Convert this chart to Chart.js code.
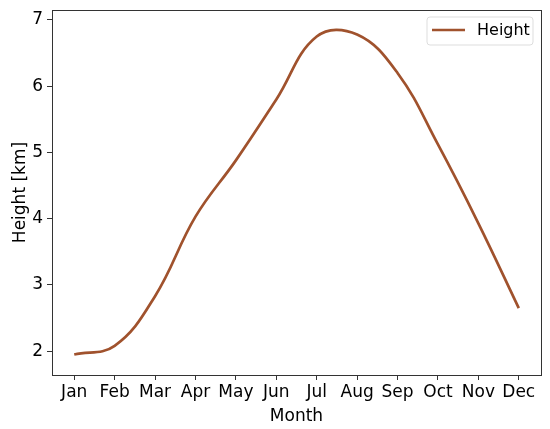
<!DOCTYPE html>
<html>
<head>
<meta charset="utf-8">
<script src="https://cdn.jsdelivr.net/npm/chart.js@4/dist/chart.umd.min.js"></script>
<style>
  html, body { margin: 0; padding: 0; background: #fff; }
  #wrap { width: 550px; height: 429px; }
</style>
</head>
<body>
<div id="wrap"><canvas id="heightChart"></canvas></div>
<script>
// valeurs
const months = ['Jan', 'Feb', 'Mar', 'Apr', 'May', 'Jun', 'Jul', 'Aug', 'Sep', 'Oct', 'Nov', 'Dec'];
const heights = [1.95, 2.08, 2.83, 4.03, 4.88, 5.80, 6.75, 6.78, 6.20, 5.12, 3.93, 2.65];
const yTicks = [2, 3, 4, 5, 6, 7];

const lineColor = '#a0522d';
const font = { family: 'DejaVu Sans', size: 17 };

// cadre autour de la zone du graphique + légende dans le coin
const framePlugin = {
    id: 'frame',
    afterDraw(chart) {
        const { ctx, chartArea: a } = chart;
        ctx.save();
        ctx.strokeStyle = '#333';
        ctx.lineWidth = 1;
        ctx.strokeRect(a.left + 0.5, a.top + 0.5, a.right - a.left, a.bottom - a.top);

        // légende
        const bx = a.right - 114, by = a.top + 7, bw = 106, bh = 28;
        ctx.fillStyle = 'rgba(255,255,255,0.8)';
        ctx.strokeStyle = '#ddd';
        ctx.beginPath();
        ctx.roundRect(bx, by, bw, bh, 3);
        ctx.fill();
        ctx.stroke();
        ctx.strokeStyle = lineColor;
        ctx.lineWidth = 2.5;
        ctx.beginPath();
        ctx.moveTo(bx + 5, by + 13);
        ctx.lineTo(bx + 38, by + 13);
        ctx.stroke();
        ctx.fillStyle = '#000';
        ctx.font = '16px "DejaVu Sans"';
        ctx.textBaseline = 'middle';
        ctx.fillText(chart.data.datasets[0].label, bx + 50, by + 14);
        ctx.restore();
    }
};

new Chart(document.getElementById('heightChart'), {
    type: 'line',
    data: {
        datasets: [{
            label: 'Height',
            data: heights.map((h, i) => ({ x: i, y: h })),
            borderColor: lineColor,
            borderWidth: 2.7,
            pointRadius: 0,
            fill: false,
            tension: 0.4
        }]
    },
    options: {
        responsive: true,
        maintainAspectRatio: false,
        animation: false,
        layout: { padding: { left: 0, right: 9, top: 10, bottom: 0 } },
        plugins: {
            legend: { display: false },
            tooltip: { enabled: false }
        },
        scales: {
            x: {
                type: 'linear',
                min: -0.55,
                max: 11.55,
                afterBuildTicks: axis => { axis.ticks = months.map((m, i) => ({ value: i })); },
                afterFit: axis => { axis.height = 54; axis.paddingLeft = 0; axis.paddingRight = 0; },
                ticks: {
                    font: font,
                    color: '#000',
                    padding: 2,
                    maxRotation: 0,
                    autoSkip: false,
                    callback: v => months[v]
                },
                grid: { display: true, drawOnChartArea: false, drawTicks: true, tickLength: 5, color: '#333' },
                border: { display: false },
                title: { display: true, text: 'Month', font: font, color: '#000', padding: { top: 0, bottom: 2 } }
            },
            y: {
                min: 1.64,
                max: 7.15,
                afterBuildTicks: axis => { axis.ticks = yTicks.map(v => ({ value: v })); },
                afterFit: axis => { axis.width = 52; axis.paddingTop = 0; axis.paddingBottom = 0; },
                ticks: { font: font, color: '#000', padding: 4 },
                grid: { display: true, drawOnChartArea: false, drawTicks: true, tickLength: 5, color: '#333' },
                border: { display: false },
                title: { display: true, text: 'Height [km]', font: font, color: '#000', padding: { top: 10, bottom: 0 } }
            }
        }
    },
    plugins: [framePlugin]
});
</script>
</body>
</html>
